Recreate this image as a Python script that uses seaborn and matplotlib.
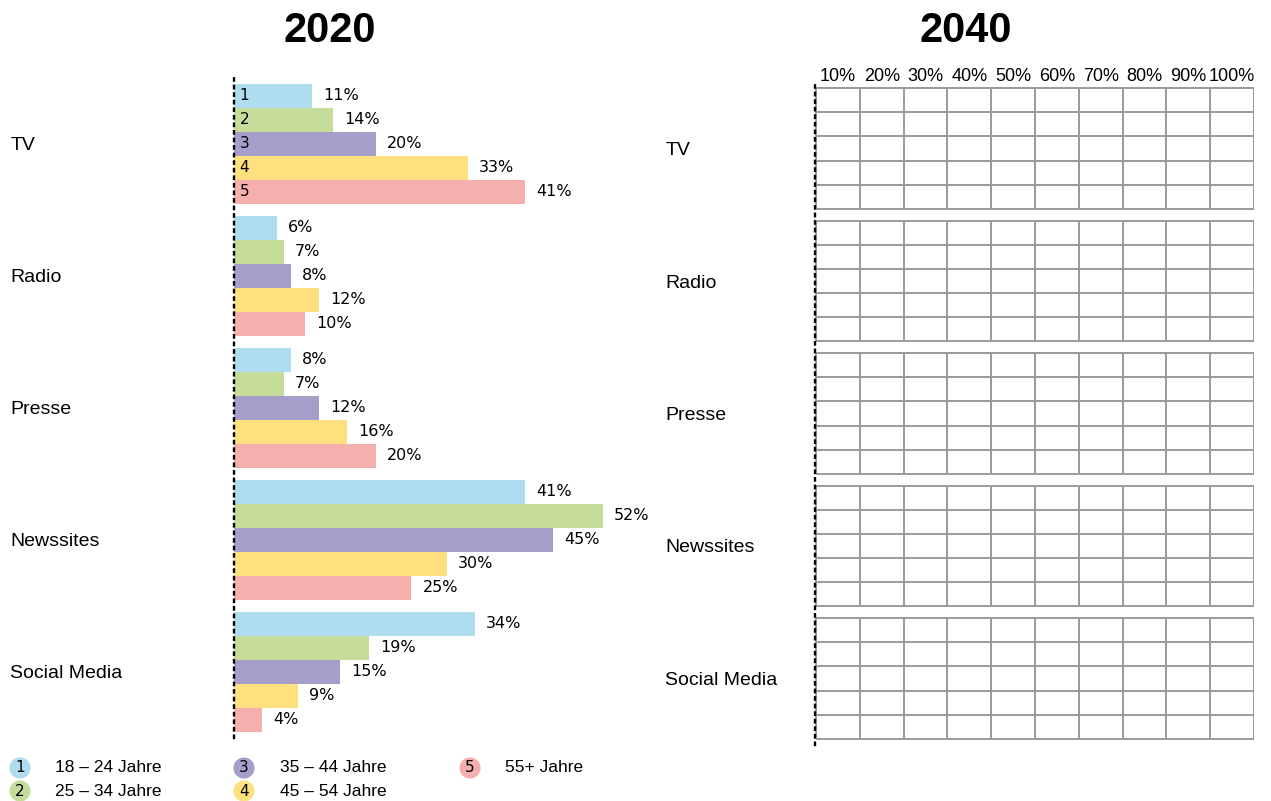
import numpy as np
import pandas as pd
import matplotlib
matplotlib.use("Agg")
import matplotlib.pyplot as plt
import seaborn as sns

# ---------------- data ----------------
categories = ["TV", "Radio", "Presse", "Newssites", "Social Media"]
age_groups = ["18 – 24 Jahre", "25 – 34 Jahre", "35 – 44 Jahre", "45 – 54 Jahre", "55+ Jahre"]
group_numbers = ["1", "2", "3", "4", "5"]
v_18_24 = [11, 6, 8, 41, 34]
v_25_34 = [14, 7, 7, 52, 19]
v_35_44 = [20, 8, 12, 45, 15]
v_45_54 = [33, 12, 16, 30, 9]
v_55_plus = [41, 10, 20, 25, 4]
grid_ticks = [10, 20, 30, 40, 50, 60, 70, 80, 90, 100]
title_left = "2020"
title_right = "2040"

colors = ["#ADDDEF", "#C6DC9A", "#A79DCB", "#FEE07E", "#F5B0AE"]

series = [v_18_24, v_25_34, v_35_44, v_45_54, v_55_plus]
df = pd.DataFrame(
    [(c, a, s[i]) for a, s in zip(age_groups, series) for i, c in enumerate(categories)],
    columns=["Medium", "Alter", "Anteil"],
)

sns.set_theme(style="white")
plt.rcParams["font.family"] = ["Liberation Sans", "DejaVu Sans"]

W, H = 1271, 801
fig = plt.figure(figsize=(W / 100, H / 100), dpi=100)

def fpos(x0, y0, x1, y1):
    return [x0 / W, 1 - y1 / H, (x1 - x0) / W, (y1 - y0) / H]

GROUP_W = 5 / 5.5
dotted = (0, (1, 2.2))

# ---------------- left: 2020 bars ----------------
ax = fig.add_axes(fpos(234, 78, 624, 738))
sns.barplot(data=df, y="Medium", x="Anteil", hue="Alter", order=categories,
            hue_order=age_groups, palette=colors, orient="h", width=GROUP_W,
            gap=0.04, saturation=1, linewidth=0, errorbar=None, legend=False, ax=ax)
ax.set_xlim(0, 55)
ax.set_ylim(len(categories) - 0.5, -0.5)
ax.set_xlabel("")
ax.set_ylabel("")
ax.set_xticks([])
for s in ["top", "right", "bottom"]:
    ax.spines[s].set_visible(False)
ax.spines["left"].set_color("black")
ax.spines["left"].set_linewidth(1.7)
ax.spines["left"].set_linestyle(dotted)
ax.tick_params(axis="y", length=0, pad=161, labelsize=14)
for t in ax.get_yticklabels():
    t.set_horizontalalignment("left")
    t.set_color("black")

for j, cont in enumerate(ax.containers):
    ax.bar_label(cont, labels=[f"{v}%" for v in series[j]], padding=8,
                 fontsize=11.5, color="black", family="DejaVu Sans")
    p = cont.patches[0]
    ax.annotate(group_numbers[j], (0, p.get_y() + p.get_height() / 2),
                xytext=(4, 0), textcoords="offset points", va="center", ha="left",
                fontsize=11, color="black", family="DejaVu Sans")

fig.text(330 / W, 1 - 31 / H, title_left, ha="center", va="center",
         fontsize=30, fontweight="bold", color="black")

# ---------------- right: 2040 empty grid ----------------
ax2 = fig.add_axes(fpos(815, 82.25, 1254, 744.75))
ax2.set_xlim(-0.23, 100)
ax2.set_ylim(len(categories) - 0.5, -0.5)
for s in ["top", "right", "bottom"]:
    ax2.spines[s].set_visible(False)
ax2.spines["left"].set_color("black")
ax2.spines["left"].set_linewidth(1.7)
ax2.spines["left"].set_linestyle(dotted)

grid_color = "#9A9A9A"
for i in range(len(categories)):
    rows = np.linspace(i - GROUP_W / 2, i + GROUP_W / 2, len(age_groups) + 1)
    ax2.hlines(rows, 0, 100, color=grid_color, lw=1.4)
    ax2.vlines([0] + grid_ticks, rows[0], rows[-1], color=grid_color, lw=1.4)
ax2.set_yticks(range(len(categories)))
ax2.set_yticklabels(categories)
ax2.tick_params(axis="y", length=0, pad=107.8, labelsize=14)
for t in ax2.get_yticklabels():
    t.set_horizontalalignment("left")
    t.set_color("black")
ax2.set_xticks([t - 5 for t in grid_ticks])
ax2.set_xticklabels([f"{t}%" for t in grid_ticks])
ax2.tick_params(axis="x", top=True, labeltop=True, bottom=False, labelbottom=False,
                length=0, pad=-2, labelsize=13, labelcolor="black")

fig.text(966 / W, 1 - 31 / H, title_right, ha="center", va="center",
         fontsize=30, fontweight="bold", color="black")

# ---------------- legend ----------------
legend_pos = [(20, 768, 55), (20, 791, 55), (244, 768, 280), (244, 791, 280), (470, 768, 505)]
for j, (cx, cy, tx) in enumerate(legend_pos):
    fig.text(cx / W, 1 - cy / H, group_numbers[j], ha="center", va="center",
             fontsize=11, color="black", family="DejaVu Sans",
             bbox=dict(boxstyle="circle,pad=0.2", fc=colors[j], ec="none"))
    fig.text(tx / W, 1 - cy / H, age_groups[j], ha="left", va="center",
             fontsize=12.5, color="black")

fig.savefig("out.png", dpi=100)
